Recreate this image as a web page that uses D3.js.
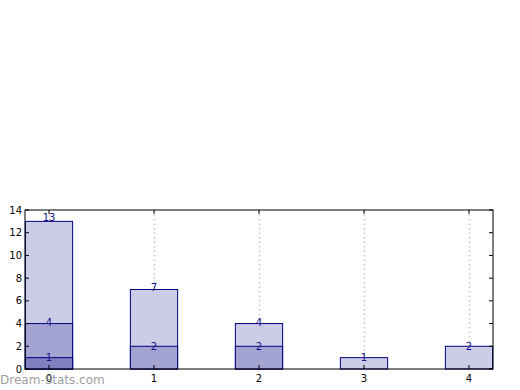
<!DOCTYPE html>
<html><head><meta charset="utf-8">
<script src="https://cdn.jsdelivr.net/npm/d3@7"></script>
<style>body{margin:0;background:#fff}svg{display:block}</style>
</head><body>
<svg id="c" width="520" height="390"></svg>
<script>
const categories = [0, 1, 2, 3, 4];
const seriesA = [13, 7, 4, 1, 2];
const seriesB = [4, 2, 2, 0, 0];
const seriesC = [1, 0, 0, 0, 0];
const yTicks = [0, 2, 4, 6, 8, 10, 12, 14];

const svg = d3.select("#c");
const L = 25, R = 493, T = 210, B = 369;
const x = d3.scaleLinear().domain([-0.2286, 4.2286]).range([L, R]);
const y = d3.scaleLinear().domain([0, 14]).range([B, T]);
const bw = x(0.45) - x(0);

// grid
svg.append("g").selectAll("line").data(categories).join("line")
  .attr("x1", d => x(d) + 0.5).attr("x2", d => x(d) + 0.5)
  .attr("y1", T).attr("y2", B)
  .attr("stroke", "#c8c8c8").attr("stroke-width", 1.5).attr("stroke-dasharray", "1.5,3");

const series = [
  {vals: seriesA, fill: "#ccccE6"},
  {vals: seriesB, fill: "#a3a3d1"},
  {vals: seriesC, fill: "#8080c0"}
];
series.forEach(s => {
  const g = svg.append("g");
  g.selectAll("rect").data(categories.filter((c, i) => s.vals[i] > 0)).join("rect")
    .attr("x", d => x(d) - bw / 2).attr("width", bw)
    .attr("y", d => y(s.vals[d])).attr("height", d => y(0) - y(s.vals[d]))
    .attr("fill", s.fill).attr("stroke", "#000080").attr("stroke-width", 1);
});
series.forEach(s => {
  svg.append("g").selectAll("text").data(categories.filter((c, i) => s.vals[i] > 0)).join("text")
    .attr("x", d => x(d)).attr("y", d => y(s.vals[d] * 1.025) + 3.8)
    .attr("text-anchor", "middle")
    .attr("font-family", "DejaVu Sans").attr("font-size", 10).attr("fill", "#10108a")
    .text(d => s.vals[d]);
});

// frame
svg.append("rect").attr("x", L).attr("y", T).attr("width", R - L).attr("height", B - T)
  .attr("fill", "none").attr("stroke", "#000").attr("stroke-width", 1);

// y ticks
const yg = svg.append("g");
yTicks.forEach(t => {
  yg.append("line").attr("x1", L).attr("x2", L + 4).attr("y1", y(t)).attr("y2", y(t)).attr("stroke", "#000");
  yg.append("line").attr("x1", R - 4).attr("x2", R).attr("y1", y(t)).attr("y2", y(t)).attr("stroke", "#000");
  yg.append("text").attr("x", L - 3).attr("y", y(t) + 3.5).attr("text-anchor", "end")
    .attr("font-family", "DejaVu Sans").attr("font-size", 10).attr("fill", "#000").text(t);
});
// x ticks
categories.forEach(c => {
  yg.append("line").attr("x1", x(c)).attr("x2", x(c)).attr("y1", B).attr("y2", B - 4).attr("stroke", "#000");
  yg.append("line").attr("x1", x(c)).attr("x2", x(c)).attr("y1", T).attr("y2", T + 4).attr("stroke", "#000");
  yg.append("text").attr("x", x(c)).attr("y", B + 13).attr("text-anchor", "middle")
    .attr("font-family", "DejaVu Sans").attr("font-size", 10).attr("fill", "#000").text(c);
});

svg.append("text").attr("x", 0).attr("y", 384)
  .attr("font-family", "DejaVu Sans").attr("font-size", 12)
  .attr("fill", "#8c8c8c").attr("fill-opacity", 0.85).text("Dream-Stats.com");
</script>
</body></html>
